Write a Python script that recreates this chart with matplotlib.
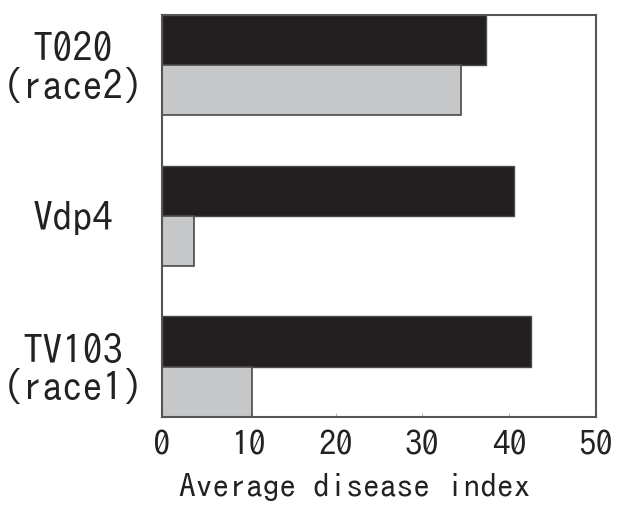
import matplotlib
matplotlib.use('Agg')
import matplotlib.pyplot as plt
import numpy as np

strains = ['T020\n(race2)', 'Vdp4', 'TV103\n(race1)']
black_vals = [37.3, 40.6, 42.5]
gray_vals = [34.5, 3.7, 10.4]
xticks = [0, 10, 20, 30, 40, 50]

font = ['IPAGothic', 'DejaVu Sans']

fig = plt.figure(figsize=(6.18, 5.05), dpi=100)
ax = fig.add_axes([0.2621, 0.1743, 0.7023, 0.796])

y = np.arange(len(strains))
h = 1 / 3
ax.barh(y - h / 2, black_vals, height=h, color='#231f20', edgecolor='#4a4a4a', linewidth=1.0)
ax.barh(y + h / 2, gray_vals, height=h, color='#c6c7c9', edgecolor='#4a4a4a', linewidth=1.2)

ax.set_xlim(0, 50)
ax.set_ylim(y[-1] + h, y[0] - h)

ax.set_xticks(xticks)
ax.set_xticklabels([str(t) for t in xticks], family=font, fontsize=25, color='#222222')
ax.tick_params(axis='x', direction='in', length=3, color='#bbbbbb', pad=10)

ax.set_yticks(y)
ax.set_yticklabels(strains, family=font, fontsize=29, color='#222222', linespacing=1.05)
for lab in ax.get_yticklabels():
    lab.set_ha('center')
    lab.set_multialignment('center')
ax.tick_params(axis='y', length=0, pad=64)

ax.set_xlabel('Average disease index', family=font, fontsize=24, color='#222222')
ax.xaxis.set_label_coords(0.445, -0.14)

for s in ax.spines.values():
    s.set_color('#555555')
    s.set_linewidth(1.5)

fig.savefig('out.png', dpi=100)
